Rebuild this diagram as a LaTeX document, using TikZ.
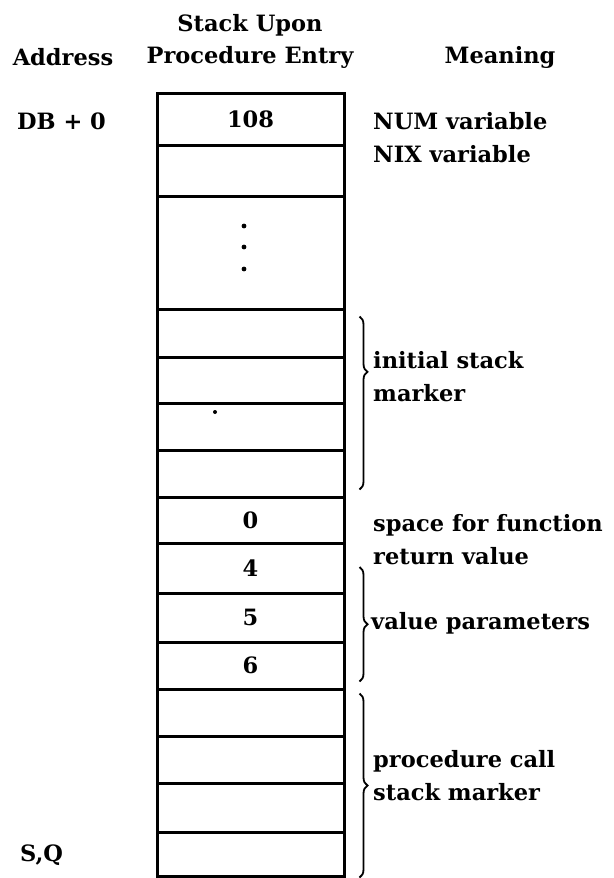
\documentclass[tikz,border=0pt]{standalone}
\usepackage{fontspec}
\setmainfont{DejaVu Serif}
\usetikzlibrary{decorations.pathreplacing,calc}
\begin{document}
\begin{tikzpicture}[x=1pt,y=-1pt,
  hdr/.style={font=\fontsize{22.5}{32}\selectfont\bfseries, align=center, inner sep=0pt},
  txt/.style={font=\fontsize{22.5}{33}\selectfont\bfseries, align=left, inner sep=0pt, anchor=west},
  cell/.style={draw, line width=3pt, minimum width=187pt, inner sep=0pt,
               font=\fontsize{22.5}{24}\selectfont\bfseries},
  brc/.style={decorate, decoration={brace, amplitude=8pt}, line width=1.8pt}]
\useasboundingbox (0,0) rectangle (613,878);

% headers
\node[hdr] (hstack) at (250,41) {Stack Upon\\Procedure Entry};
\node[hdr] (haddr) at (63,57) {Address};
\node[hdr] (hmean) at (500,57) {Meaning};

% stack cells
\node[cell, minimum height=52pt] (r1) at (250.5,119) {108};
\node[cell, minimum height=51pt] (r2) at (250.5,170.5) {};
\node[cell, minimum height=113pt] (r3) at (250.5,252.5) {};
\node[cell, minimum height=48pt] (r4) at (250.5,333) {};
\node[cell, minimum height=46pt] (r5) at (250.5,380) {};
\node[cell, minimum height=47pt] (r6) at (250.5,426.5) {};
\node[cell, minimum height=47pt] (r7) at (250.5,473.5) {};
\node[cell, minimum height=46pt] (r8) at (250.5,520) {0};
\node[cell, minimum height=50pt] (r9) at (250.5,568) {4};
\node[cell, minimum height=49pt] (r10) at (250.5,617.5) {5};
\node[cell, minimum height=47pt] (r11) at (250.5,665.5) {6};
\node[cell, minimum height=47pt] (r12) at (250.5,712.5) {};
\node[cell, minimum height=47pt] (r13) at (250.5,759.5) {};
\node[cell, minimum height=49pt] (r14) at (250.5,807.5) {};
\node[cell, minimum height=44pt] (r15) at (250.5,854) {};

% dots
\fill (244,226) circle (2.4);
\fill (244,247) circle (2.4);
\fill (244,269) circle (2.4);
\fill (215,412) circle (2);

% address labels
\node[txt] (db) at (17,121) {DB + 0};
\node[txt] (sq) at (20,855) {S,Q};

% meaning texts
\node[txt] (m1) at (373,138) {NUM variable\\NIX variable};
\node[txt] (m2) at (373,377) {initial stack\\marker};
\node[txt] (m3) at (373,540) {space for function\\return value};
\node[txt] (m4) at (371,623) {value parameters};
\node[txt] (m5) at (373,776) {procedure call\\stack marker};

% braces
\draw[brc, decoration={aspect=0.32}] ($(r4.north east)+(14,9)$) -- ($(r7.south east)+(14,-9)$);
\draw[brc] ($(r9.east)+(14,-1)$) -- ($(r11.south east)+(14,-9)$);
\draw[brc] ($(r12.north east)+(14,6)$) -- ($(r15.south east)+(14,0)$);
\end{tikzpicture}
\end{document}
